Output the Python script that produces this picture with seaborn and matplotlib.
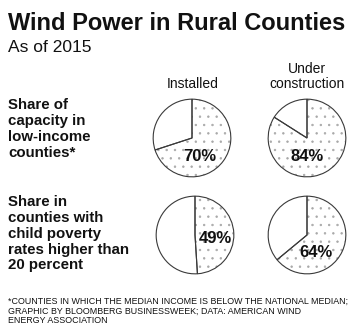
import matplotlib
matplotlib.use("Agg")
import matplotlib.pyplot as plt
import seaborn as sns

sns.set_theme(style="white")
plt.rcParams["font.family"] = ["Liberation Sans", "DejaVu Sans"]
plt.rcParams["hatch.linewidth"] = 0.5

# Data
columns = ["Installed", "Under\nconstruction"]
rows = ["Share of\ncapacity in\nlow-income\ncounties*",
        "Share in\ncounties with\nchild poverty\nrates higher than\n20 percent"]
share_low_income = [70, 84]
share_child_poverty = [49, 64]
values = [share_low_income, share_child_poverty]

W, H = 360, 334
fig = plt.figure(figsize=(W / 100, H / 100), dpi=100)
fig.patch.set_facecolor("white")

def px(x, y):
    return x / W, 1 - y / H

# Layout: pie centres (pixels), radius, label offsets in pie units
centres = [[(192, 138), (307, 138)], [(195, 235), (307, 235)]]
radius_px = 40
label_off = [[(0.2, -0.47), (0.0, -0.47)], [(0.52, -0.08), (0.22, -0.45)]]

for r in range(2):
    for c in range(2):
        cx, cy = centres[r][c]
        ax = fig.add_axes([(cx - radius_px) / W, 1 - (cy + radius_px) / H,
                           2 * radius_px / W, 2 * radius_px / H])
        v = values[r][c]
        # stippled fill layer (hatch takes the edge colour)
        fill, _ = ax.pie([v, 100 - v], startangle=90, counterclock=False,
                         colors=["white", "white"],
                         wedgeprops=dict(edgecolor="#a8a8a8", linewidth=0))
        fill[0].set_hatch("..")
        fill[1].set_edgecolor("white")
        # outline layer
        ax.pie([v, 100 - v], startangle=90, counterclock=False,
               colors=["none", "none"],
               wedgeprops=dict(edgecolor="#3a3a3a", linewidth=0.8,
                               facecolor="none"))
        ax.set_xlim(-1.03, 1.03)
        ax.set_ylim(-1.03, 1.03)
        ax.set_aspect("equal")
        ax.axis("off")
        dx, dy = label_off[r][c]
        ax.text(dx, dy, f"{v}%", ha="center", va="center", fontsize=12,
                fontweight="bold", color="#111111")

# Titles
fig.text(*px(8, 30), "Wind Power in Rural Counties", fontsize=17,
         fontweight="bold", color="#111111", va="baseline")
fig.text(*px(8, 52), "As of 2015", fontsize=12.5, color="#111111", va="baseline")

# Column headers
fig.text(*px(193, 88), columns[0], fontsize=10, ha="center", va="baseline",
         color="#111111")
fig.text(*px(307, 88), columns[1], fontsize=10, ha="center", va="baseline",
         color="#111111", linespacing=1.05)

# Row labels
fig.text(*px(8, 98), rows[0], fontsize=10.8, fontweight="bold", va="top",
         color="#111111", linespacing=1.17)
fig.text(*px(8, 195), rows[1], fontsize=10.8, fontweight="bold", va="top",
         color="#111111", linespacing=1.17)

# Footnote
fig.text(*px(8, 297),
         "*COUNTIES IN WHICH THE MEDIAN INCOME IS BELOW THE NATIONAL MEDIAN;\n"
         "GRAPHIC BY BLOOMBERG BUSINESSWEEK; DATA: AMERICAN WIND\n"
         "ENERGY ASSOCIATION",
         fontsize=6.4, va="top", color="#111111", linespacing=1.1)

fig.savefig("out.png", dpi=100, facecolor="white")
